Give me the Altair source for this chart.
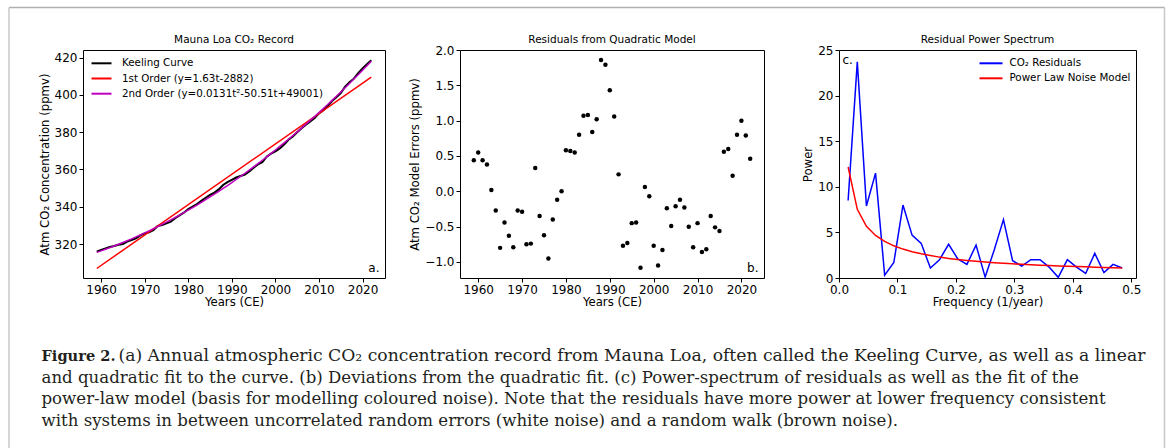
import altair as alt
import pandas as pd

# ---------------- data ----------------
years = list(range(1959, 2023))
keeling = [315.98, 316.91, 317.64, 318.45, 318.99, 319.62, 320.04, 321.37, 322.18, 323.05,
           324.62, 325.68, 326.32, 327.46, 329.68, 330.19, 331.13, 332.03, 333.84, 335.41,
           336.84, 338.76, 340.12, 341.48, 343.15, 344.87, 346.35, 347.61, 349.31, 351.69,
           353.20, 354.45, 355.70, 356.54, 357.21, 358.96, 360.97, 362.74, 363.88, 366.84,
           368.54, 369.71, 371.32, 373.45, 375.98, 377.70, 379.98, 382.09, 384.02, 385.83,
           387.64, 390.10, 391.85, 394.06, 396.74, 398.81, 401.01, 404.41, 406.76, 408.72,
           411.66, 414.24, 416.45, 418.56]
quadratic = [315.54, 316.36, 317.20, 318.07, 318.97, 319.89, 320.84, 321.81, 322.81, 323.84,
             324.89, 325.97, 327.07, 328.20, 329.35, 330.54, 331.75, 332.98, 334.25, 335.53,
             336.84, 338.18, 339.55, 340.94, 342.36, 343.80, 345.27, 346.77, 348.29, 349.83,
             351.41, 353.02, 354.64, 356.30, 357.98, 359.69, 361.42, 363.18, 364.97, 366.78,
             368.61, 370.48, 372.37, 374.29, 376.22, 378.19, 380.19, 382.21, 384.26, 386.33,
             388.43, 390.55, 392.71, 394.89, 397.09, 399.32, 401.58, 403.85, 406.16, 408.50,
             410.86, 413.24, 415.66, 418.10]
linear_years = [1959, 2022]
linear_vals = [306.9, 409.6]

residuals = [0.44, 0.55, 0.44, 0.38, 0.02, -0.27, -0.80, -0.44, -0.63, -0.79,
             -0.27, -0.29, -0.75, -0.74, 0.33, -0.35, -0.62, -0.95, -0.40, -0.12,
             0.00, 0.58, 0.57, 0.55, 0.80, 1.07, 1.08, 0.84, 1.02, 1.86,
             1.79, 1.43, 1.06, 0.24, -0.77, -0.73, -0.45, -0.44, -1.08, 0.06,
             -0.07, -0.77, -1.05, -0.83, -0.24, -0.49, -0.21, -0.12, -0.23, -0.50,
             -0.79, -0.45, -0.86, -0.82, -0.35, -0.51, -0.56, 0.56, 0.60, 0.22,
             0.80, 1.00, 0.79, 0.46]

freqs = [0.0156, 0.0313, 0.0469, 0.0625, 0.0781, 0.0938, 0.1094, 0.1250, 0.1406, 0.1563,
         0.1719, 0.1875, 0.2031, 0.2188, 0.2344, 0.2500, 0.2656, 0.2813, 0.2969, 0.3125,
         0.3281, 0.3438, 0.3594, 0.3750, 0.3906, 0.4063, 0.4219, 0.4375, 0.4531, 0.4688,
         0.4844]
power = [8.5, 23.7, 7.9, 11.5, 0.3, 1.7, 8.0, 4.7, 3.8, 1.1,
         2.0, 3.7, 2.1, 1.5, 3.6, 0.1, 3.1, 6.4, 1.9, 1.3,
         2.0, 2.0, 1.2, 0.07, 2.0, 1.2, 0.5, 2.7, 0.6, 1.5,
         1.1]
power_law = [12.17, 7.53, 5.67, 4.66, 4.01, 3.53, 3.17, 2.88, 2.65, 2.46,
             2.29, 2.15, 2.03, 1.93, 1.83, 1.75, 1.68, 1.61, 1.55, 1.50,
             1.45, 1.40, 1.36, 1.32, 1.28, 1.25, 1.22, 1.19, 1.16, 1.13,
             1.10]

x_ticks_years = [1960, 1970, 1980, 1990, 2000, 2010, 2020]
y_ticks_a = [320, 340, 360, 380, 400, 420]
y_ticks_b = [-1.0, -0.5, 0.0, 0.5, 1.0, 1.5, 2.0]
x_ticks_c = [0.0, 0.1, 0.2, 0.3, 0.4, 0.5]
y_ticks_c = [0, 5, 10, 15, 20, 25]

panel_titles = ["Mauna Loa CO\u2082 Record", "Residuals from Quadratic Model", "Residual Power Spectrum"]
legend_a = ["Keeling Curve", "1st Order (y=1.63t-2882)", "2nd Order (y=0.0131t\u00b2-50.51t+49001)"]
legend_a_colors = ["black", "#ff0000", "#bf00bf"]
legend_c = ["CO\u2082 Residuals", "Power Law Noise Model"]
legend_c_colors = ["#0000ff", "#ff0000"]

caption_bold = "Figure 2."
caption_lines = [
    "(a) Annual atmospheric CO\u2082 concentration record from Mauna Loa, often called the Keeling Curve, as well as a linear",
    "and quadratic fit to the curve. (b) Deviations from the quadratic fit. (c) Power-spectrum of residuals as well as the fit of the",
    "power-law model (basis for modelling coloured noise). Note that the residuals have more power at lower frequency consistent",
    "with systems in between uncorrelated random errors (white noise) and a random walk (brown noise).",
]

FONT = "DejaVu Sans"
SERIF = "DejaVu Serif"
TICK_FS = 12
AX_TITLE_FS = 11.7
LEG_FS = 10.3
TITLE_FS = 10.5

WA, WB, WC, H = 302, 304, 297, 228
OX, OY = 81.5, 49  # origin of panel a in page pixels

blank = alt.Data(values=[{"k": 0}])


def txt(s, x, y, size, align="left", baseline="middle", font=FONT, weight="normal", color="black"):
    return alt.Chart(blank).mark_text(
        text=s, align=align, baseline=baseline, font=font, fontSize=size,
        fontWeight=weight, color=color
    ).encode(x=alt.value(x), y=alt.value(y))


def hrule(x1, x2, y, color, w):
    return alt.Chart(blank).mark_rule(color=color, strokeWidth=w).encode(
        x=alt.value(x1), x2=alt.value(x2), y=alt.value(y))


def vrule(x, y1, y2, color, w):
    return alt.Chart(blank).mark_rule(color=color, strokeWidth=w).encode(
        x=alt.value(x), y=alt.value(y1), y2=alt.value(y2))


def ptitle(s, w):
    return txt(s, w / 2, -10, TITLE_FS, align="center")


# ---------------- panel a ----------------
xa = alt.X("year:Q", scale=alt.Scale(domain=[1955.85, 2025.15], nice=False, zero=False),
           axis=alt.Axis(values=x_ticks_years, format="d", title="Years (CE)"))
ya = alt.Y("co2:Q", scale=alt.Scale(domain=[301.8, 424.1], nice=False, zero=False),
           axis=alt.Axis(values=y_ticks_a, format="d", title="Atm CO\u2082 Concentration (ppmv)"))

df_keel = pd.DataFrame({"year": years, "co2": keeling})
df_quad = pd.DataFrame({"year": years, "co2": quadratic})
df_lin = pd.DataFrame({"year": linear_years, "co2": linear_vals})

a_layers = [
    alt.Chart(df_keel).mark_line(color="black", strokeWidth=2).encode(x=xa, y=ya),
    alt.Chart(df_lin).mark_line(color="#ff0000", strokeWidth=1.5).encode(x=xa, y=ya),
    alt.Chart(df_quad).mark_line(color="#bf00bf", strokeWidth=1.5).encode(x=xa, y=ya),
]
for i, (lab, col) in enumerate(zip(legend_a, legend_a_colors)):
    yy = 13.3 + i * 15.2
    a_layers.append(hrule(8.5, 28.5, yy, col, 2))
    a_layers.append(txt(lab, 39, yy, LEG_FS))
a_layers.append(txt("a.", WA - 5.5, H - 10, 12, align="right"))
a_layers.append(ptitle(panel_titles[0], WA))

# caption (page coordinates shifted to panel a origin)
base = [360, 381.5, 403, 424.5]
a_layers.append(txt(caption_bold, 40 - OX, base[0] - OY, 14.6, baseline="alphabetic",
                    font=SERIF, weight="bold", color="#231f20"))
a_layers.append(txt(caption_lines[0], 117 - OX, base[0] - OY, 17.2, baseline="alphabetic",
                    font=SERIF, color="#231f20"))
for i in range(1, 4):
    a_layers.append(txt(caption_lines[i], 40 - OX, base[i] - OY, 16.6, baseline="alphabetic",
                        font=SERIF, color="#231f20"))

# outer frame
a_layers.append(hrule(7.5 - OX, 1163 - OX, 6.5 - OY, "#b0b0b0", 1.5))
a_layers.append(vrule(7.5 - OX, 6.5 - OY, 447 - OY, "#c8c8c8", 1.5))
a_layers.append(vrule(1163 - OX, 6.5 - OY, 447 - OY, "#c8c8c8", 1.5))

panel_a = alt.layer(*a_layers).properties(width=WA, height=H)

# ---------------- panel b ----------------
df_res = pd.DataFrame({"year": years, "res": residuals})
panel_b = alt.layer(
    alt.Chart(df_res).mark_circle(size=20, color="black", opacity=1).encode(
        x=alt.X("year:Q", scale=alt.Scale(domain=[1955.85, 2025.15], nice=False, zero=False),
                axis=alt.Axis(values=x_ticks_years, format="d", title="Years (CE)")),
        y=alt.Y("res:Q", scale=alt.Scale(domain=[-1.2265, 2.0], nice=False, zero=False),
                axis=alt.Axis(values=y_ticks_b, format=".1f",
                              title="Atm CO\u2082 Model Errors (ppmv)")),
    ),
    txt("b.", WB - 5.5, H - 10, 12, align="right"),
    ptitle(panel_titles[1], WB),
).properties(width=WB, height=H)

# ---------------- panel c ----------------
xc = alt.X("f:Q", scale=alt.Scale(domain=[0, 0.508], nice=False, zero=False),
           axis=alt.Axis(values=x_ticks_c, format=".1f", title="Frequency (1/year)"))
yc = alt.Y("p:Q", scale=alt.Scale(domain=[0, 25], nice=False),
           axis=alt.Axis(values=y_ticks_c, format="d", title="Power"))
df_pow = pd.DataFrame({"f": freqs, "p": power})
df_pl = pd.DataFrame({"f": freqs, "p": power_law})
c_layers = [
    alt.Chart(df_pow).mark_line(color="#0000ff", strokeWidth=1.5).encode(x=xc, y=yc),
    alt.Chart(df_pl).mark_line(color="#ff0000", strokeWidth=1.5).encode(x=xc, y=yc),
]
for i, (lab, col) in enumerate(zip(legend_c, legend_c_colors)):
    yy = 13.3 + i * 15.0
    c_layers.append(hrule(140.5, 163.5, yy, col, 2))
    c_layers.append(txt(lab, 170.5, yy, LEG_FS))
c_layers.append(txt("c.", 3.5, 10, 12))
c_layers.append(ptitle(panel_titles[2], WC))
panel_c = alt.layer(*c_layers).properties(width=WC, height=H)

chart = alt.hconcat(panel_a, panel_b, panel_c, spacing=75, bounds="flush").properties(
    padding={"left": 7, "top": 6, "right": 0, "bottom": 0},
    background="white",
).configure_view(
    stroke="black", strokeWidth=1
).configure_axis(
    domain=False, grid=False, tickColor="black", tickSize=4, tickWidth=1,
    labelFont=FONT, labelFontSize=TICK_FS, labelColor="black", labelPadding=2,
    labelFlush=False, labelOverlap=False,
    titleFont=FONT, titleFontSize=AX_TITLE_FS, titleFontWeight="normal", titleColor="black",
).configure_axisX(titlePadding=1).configure_axisY(titlePadding=4)

chart.save("out.html", embed_options={"renderer": "svg", "actions": False})
